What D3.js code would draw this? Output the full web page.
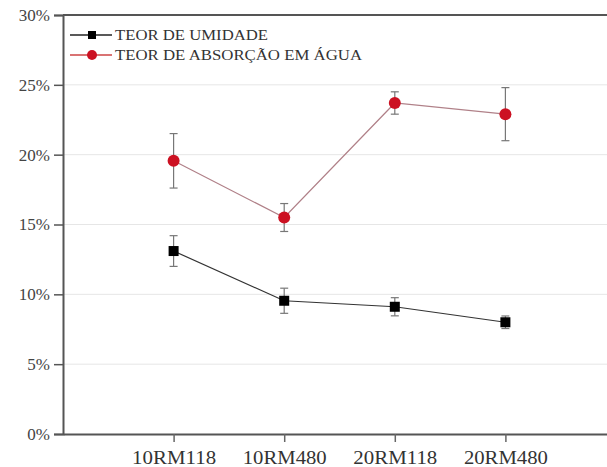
<!DOCTYPE html>
<html>
<head>
<meta charset="utf-8">
<script src="https://cdn.jsdelivr.net/npm/d3@7"></script>
<style>
	body{margin:0;background:#fff}
	svg{display:block}
</style>
</head>
<body>
<div id="chart"></div>
<script>
var categories = ["10RM118","10RM480","20RM118","20RM480"]
var umidade = [0.131,0.0954,0.0911,0.080]
var umidadeErr = [0.011,0.009,0.0065,0.0045]
var absorcao = [0.1956,0.155,0.237,0.229]
var absorcaoErr = [0.0195,0.010,0.008,0.019]
var yTicks = [0,0.05,0.10,0.15,0.20,0.25,0.30]
var legendLabels = ["TEOR DE UMIDADE","TEOR DE ABSORÇÃO EM ÁGUA"]

var width = 607
var height = 467
var plotLeft = 63, plotRight = 616, plotTop = 15, plotBottom = 434

var svg = d3.select("#chart").append("svg").attr("width",width).attr("height",height)

var x = d3.scaleLinear().domain([0,categories.length+1]).range([plotLeft,plotRight])
var y = d3.scaleLinear().domain([0,0.30]).range([plotBottom,plotTop])

// gridlines
svg.append("g")
	.selectAll("line").data(yTicks.slice(1,-1)).enter().append("line")
	.attr("x1",plotLeft).attr("x2",plotRight)
	.attr("y1",function(d){return y(d)}).attr("y2",function(d){return y(d)})
	.attr("stroke","#e6e6e6").attr("stroke-width",1)

// top border
svg.append("line").attr("x1",plotLeft).attr("x2",plotRight).attr("y1",y(0.30)).attr("y2",y(0.30))
	.attr("stroke","#555").attr("stroke-width",2)

var yAxis = svg.append("g").attr("transform","translate("+plotLeft+",0)")
	.call(d3.axisLeft(y).tickValues(yTicks).tickFormat(d3.format(".0%")).tickSize(9).tickPadding(4))
yAxis.select(".domain").attr("stroke","#555").attr("stroke-width",2)
yAxis.selectAll(".tick line").attr("stroke","#555").attr("stroke-width",1.5)
yAxis.selectAll("text").attr("font-family","'Liberation Serif', serif").attr("font-size",17).attr("fill","#444")

var xAxis = svg.append("g").attr("transform","translate(0,"+plotBottom+")")
	.call(d3.axisBottom(x).tickValues(d3.range(1,categories.length+1))
		.tickFormat(function(d){return categories[d-1]}).tickSize(8).tickSizeOuter(0).tickPadding(9))
xAxis.select(".domain").attr("stroke","#555").attr("stroke-width",2)
xAxis.selectAll(".tick line").attr("stroke","#666").attr("stroke-width",1.5)
xAxis.selectAll("text").attr("font-family","'Liberation Serif', serif").attr("font-size",19).attr("fill","#333")
	.attr("textLength",84).attr("lengthAdjust","spacingAndGlyphs")

var line = d3.line().x(function(d,i){return x(i+1)}).y(function(d){return y(d)})

function drawSeries(values,errs,lineColor,drawMarker){
	var g = svg.append("g")
	g.append("path").attr("d",line(values)).attr("fill","none")
		.attr("stroke",lineColor).attr("stroke-width",1.2)
	var eb = g.selectAll(".err").data(values).enter().append("g")
	eb.append("line")
		.attr("x1",function(d,i){return x(i+1)}).attr("x2",function(d,i){return x(i+1)})
		.attr("y1",function(d,i){return y(d+errs[i])}).attr("y2",function(d,i){return y(d-errs[i])})
		.attr("stroke","#777").attr("stroke-width",1.2)
	;[1,-1].forEach(function(s){
		eb.append("line")
			.attr("x1",function(d,i){return x(i+1)-4}).attr("x2",function(d,i){return x(i+1)+4})
			.attr("y1",function(d,i){return y(d+s*errs[i])}).attr("y2",function(d,i){return y(d+s*errs[i])})
			.attr("stroke","#777").attr("stroke-width",1.2)
	})
	values.forEach(function(d,i){drawMarker(g,x(i+1),y(d))})
}

function square(g,cx,cy,s){
	s = s||10
	g.append("rect").attr("x",cx-s/2).attr("y",cy-s/2).attr("width",s).attr("height",s).attr("fill","#000")
}
function dot(g,cx,cy,r){
	g.append("circle").attr("cx",cx).attr("cy",cy).attr("r",r||6).attr("fill","#cc1122")
}

drawSeries(umidade,umidadeErr,"#333",function(g,cx,cy){square(g,cx,cy,10)})
drawSeries(absorcao,absorcaoErr,"#b08088",function(g,cx,cy){dot(g,cx,cy,6)})

// legend
var legend = svg.append("g")
var legendRows = [{y:35,label:legendLabels[0],mark:function(g){square(g,92,35,8)}},
	{y:55,label:legendLabels[1],mark:function(g){dot(g,92,55,5)}}]
legendRows.forEach(function(r,i){
	legend.append("line").attr("x1",70).attr("x2",112).attr("y1",r.y).attr("y2",r.y)
		.attr("stroke",i==0?"#222":"#c44").attr("stroke-width",1.5)
	r.mark(legend)
	legend.append("text").text(r.label).attr("x",115).attr("y",r.y+5)
		.attr("font-family","'Liberation Serif', serif").attr("font-size",14)
		.attr("textLength",i==0?153:247).attr("lengthAdjust","spacingAndGlyphs")
		.attr("fill","#333")
})
</script>
</body>
</html>
